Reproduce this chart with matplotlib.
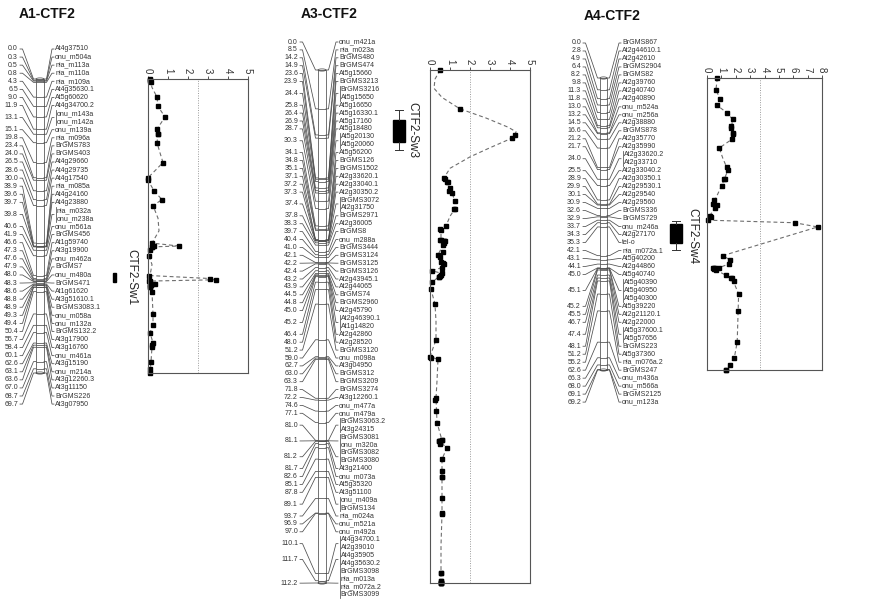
import matplotlib
matplotlib.use("Agg")
import matplotlib.pyplot as plt
from matplotlib.patches import Rectangle, Ellipse
import numpy as np

plt.rcParams['font.family'] = ['Liberation Sans', 'DejaVu Sans']

# ------------------------------------------------------------------ data
a1_markers = ["At4g37510", "onu_m504a", "nia_m113a", "nia_m110a", "nia_m109a", "At4g35630.1",
              "At5g60620", "At4g34700.2", "onu_m143a", "onu_m142a", "onu_m139a", "nia_m096a",
              "BrGMS783", "BrGMS403", "At4g29660", "At4g29735", "At4g17540", "nia_m085a",
              "At4g24160", "At4g23880", "nia_m032a", "onu_m238a", "onu_m561a", "BrGMS456",
              "At1g59740", "At3g19900", "onu_m462a", "BrGMS7", "onu_m480a", "BrGMS471",
              "At1g61620", "At3g51610.1", "BrGMS3083.1", "onu_m058a", "onu_m132a", "BrGMS132.2",
              "At3g17900", "At3g16760", "onu_m461a", "At3g15190", "onu_m214a", "At3g12260.3",
              "At3g11150", "BrGMS226", "At3g07950"]
a1_cm = [0.0, 0.3, 0.5, 0.8, 4.3, 6.5, 9.0, 11.9, 13.1, 13.1, 15.1, 19.8, 23.4, 24.0, 26.5,
         28.6, 30.0, 38.9, 39.6, 39.7, 39.8, 39.8, 40.6, 41.9, 46.6, 47.3, 47.6, 47.9, 48.0,
         48.3, 48.6, 48.8, 48.9, 49.3, 49.4, 50.4, 55.7, 58.4, 60.1, 62.6, 63.1, 63.6, 67.0,
         68.7, 69.7]
a1_lod = [0.1, 0.1, 0.1, 0.15, 0.45, 0.5, 0.85, 0.45, 0.5, 0.5, 0.45, 0.75, 0.0, 0.0, 0.3,
          0.7, 0.25, 0.2, 1.55, 0.3, 0.2, 0.2, 0.1, 0.05, 0.05, 3.1, 3.4, 0.1, 0.05,
          0.1, 0.35, 0.15, 0.1, 0.1, 0.1, 0.2, 0.25, 0.25, 0.1, 0.25, 0.2, 0.2, 0.15,
          0.1, 0.1]
a1_prof_cm = [0.0, 2.0, 4.3, 6.5, 9.0, 11.9, 13.1, 15.1, 17.5, 19.8, 21.5, 23.4, 24.0, 26.5,
              28.6, 30.0, 33.0, 36.0, 38.9, 39.6, 39.8, 41.9, 44.0, 46.6, 47.3, 47.6, 47.9,
              48.3, 48.6, 50.4, 55.7, 58.4, 60.1, 62.6, 63.6, 67.0, 69.7]
a1_prof_lod = [0.1, 0.2, 0.45, 0.5, 0.85, 0.45, 0.5, 0.45, 0.6, 0.75, 0.4, 0.0, 0.0, 0.3,
               0.7, 0.25, 0.5, 0.55, 0.2, 1.55, 0.2, 0.05, 0.2, 0.1, 3.1, 3.4, 0.1,
               0.1, 0.35, 0.2, 0.25, 0.25, 0.1, 0.25, 0.2, 0.15, 0.1]

a3_markers = ["onu_m421a", "nia_m023a", "BrGMS480", "BrGMS474", "At5g15660", "BrGMS3213",
              "BrGMS3216", "At5g15650", "At5g16650", "At5g16330.1", "At5g17160", "At5g18480",
              "At5g20130", "At5g20060", "At5g56200", "BrGMS126", "BrGMS1502", "At2g33620.1",
              "At2g33040.1", "At2g30350.2", "BrGMS3072", "At2g31750", "BrGMS2971", "At2g36005",
              "BrGMS8", "onu_m288a", "BrGMS3444", "BrGMS3124", "BrGMS3125", "BrGMS3126",
              "At2g43945.1", "At2g44065", "BrGMS74", "BrGMS2960", "At2g45790", "At2g46390.1",
              "At1g14820", "At2g42860", "At2g28520", "BrGMS3120", "onu_m098a", "At3g04950",
              "BrGMS312", "BrGMS3209", "BrGMS3274", "At3g12260.1", "onu_m477a", "onu_m479a",
              "BrGMS3063.2", "At3g24315", "BrGMS3081", "onu_m320a", "BrGMS3082", "BrGMS3080",
              "At3g21400", "onu_m073a", "At5g35320", "At3g51100", "onu_m409a", "BrGMS134",
              "nia_m024a", "onu_m521a", "onu_m492a", "At4g34700.1", "At2g39010", "At4g35905",
              "At4g35630.2", "BrGMS3098", "nia_m013a", "nia_m072a.2", "BrGMS3099"]
a3_cm = [0.0, 8.5, 14.2, 14.9, 23.6, 23.9, 24.4, 24.4, 25.8, 26.4,
         26.9, 28.7, 30.3, 30.3, 34.1, 34.8, 35.1, 37.1, 37.2, 37.3,
         37.4, 37.4, 37.8, 38.3, 39.7, 40.4, 41.0, 42.1, 42.2, 42.4,
         43.2, 43.9, 44.5, 44.8, 45.0, 45.2, 45.2, 46.4, 48.0, 51.2,
         59.0, 62.7, 63.0, 63.3, 71.8, 72.2, 74.6, 77.1, 81.0, 81.0,
         81.1, 81.1, 81.2, 81.2, 81.7, 82.6, 85.1, 87.8, 89.1, 89.1,
         93.7, 96.9, 97.0, 110.1, 110.1, 111.7, 111.7, 112.2, 112.2, 112.2,
         112.2]
a3_lod = [0.5, 1.5, 4.25, 4.1, 0.7, 0.75, 0.85, 0.9, 1.0, 0.95,
          1.1, 1.25, 1.25, 1.2, 0.8, 0.5, 0.55, 0.55, 0.5, 0.75,
          0.7, 0.7, 0.7, 0.65, 0.65, 0.4, 0.5, 0.55, 0.65, 0.7,
          0.6, 0.1, 0.6, 0.55, 0.5, 0.45, 0.45, 0.1, 0.05, 0.25,
          0.3, 0.0, 0.05, 0.4, 0.3, 0.25, 0.3, 0.35, 0.6, 0.6,
          0.5, 0.5, 0.45, 0.45, 0.5, 0.85, 0.6, 0.6, 0.6, 0.6,
          0.6, 0.6, 0.6, 0.55, 0.55, 0.55, 0.55, 0.55, 0.55, 0.55,
          0.55]
a3_prof_cm = [0.0, 2.0, 4.0, 6.0, 8.5, 10.5, 12.5, 13.5, 14.2, 14.9, 17.0, 19.0, 21.5, 23.6,
              24.4, 25.8, 26.9, 28.7, 30.3, 32.0, 34.1, 34.8, 35.1, 37.1, 37.3, 38.3, 40.4,
              42.2, 43.2, 43.9, 44.5, 45.2, 46.4, 48.0, 51.2, 55.0, 59.0, 62.7, 63.3, 68.0,
              71.8, 77.1, 81.0, 81.2, 82.6, 85.1, 89.1, 97.0, 104.0, 112.2]
a3_prof_lod = [0.5, 0.25, 0.2, 0.6, 1.5, 2.8, 3.9, 4.3, 4.25, 4.1, 3.0, 2.0, 1.0, 0.7,
               0.85, 1.0, 1.1, 1.25, 1.25, 1.0, 0.8, 0.5, 0.55, 0.55, 0.75, 0.65, 0.4,
               0.65, 0.6, 0.1, 0.6, 0.45, 0.1, 0.05, 0.25, 0.3, 0.3, 0.0, 0.4, 0.35,
               0.3, 0.35, 0.6, 0.45, 0.85, 0.6, 0.6, 0.6, 0.55, 0.55]

a4_markers = ["BrGMS867", "At2g44610.1", "At2g42610", "BrGMS2904", "BrGMS82", "At2g39760",
              "At2g40740", "At2g40890", "onu_m524a", "onu_m256a", "At2g38880", "BrGMS878",
              "At2g35770", "At2g35990", "At2g33620.2", "At2g33710", "At2g33040.2",
              "At2g30350.1", "At2g29530.1", "At2g29540", "At2g29560", "BrGMS336", "BrGMS729",
              "onu_m246a", "At2g27170", "tel-o", "nia_m072a.1", "At5g40200", "At2g44860",
              "At5g40740", "At5g40390", "At5g40950", "At5g40300", "At5g39220", "At2g21120.1",
              "At2g22000", "At5g37600.1", "At5g57656", "BrGMS223", "At5g37360", "nia_m076a.2",
              "BrGMS247", "onu_m436a", "onu_m566a", "BrGMS2125", "onu_m123a"]
a4_cm = [0.0, 2.8, 4.9, 6.4, 8.2, 9.8, 11.3, 11.8, 13.0, 13.2,
         14.5, 16.6, 21.2, 21.7, 24.0, 24.0, 25.5, 28.9, 29.9, 30.1,
         30.9, 32.6, 32.9, 33.7, 34.3, 35.3, 42.1, 43.1, 44.1, 45.0,
         45.1, 45.1, 45.1, 45.2, 45.5, 46.7, 47.4, 47.4, 48.1, 51.2,
         55.2, 62.6, 66.3, 68.0, 69.1, 69.2]
a4_lod = [0.72, 0.62, 0.9, 0.67, 1.37, 1.78, 1.7, 1.7, 1.8, 1.8,
          1.74, 0.85, 1.37, 1.47, 1.23, 1.2, 1.02, 0.5, 0.42, 0.67,
          0.55, 0.2, 0.3, 0.1, 6.1, 7.7, 1.1, 1.6, 1.5, 0.8,
          0.45, 0.5, 0.55, 0.5, 0.6, 1.3, 1.74, 1.7, 1.9, 2.2,
          2.15, 2.1, 1.9, 1.6, 1.3, 1.3]
a4_prof_cm = [0.0, 2.8, 4.9, 6.4, 8.2, 9.8, 11.8, 13.2, 14.5, 16.6, 19.0, 21.2, 21.7, 24.0,
              25.5, 29.9, 30.1, 32.6, 33.7, 34.3, 35.3, 42.1, 43.1, 44.1, 45.0, 45.1, 45.5,
              46.7, 47.4, 51.2, 57.0, 62.6, 66.3, 69.2]
a4_prof_lod = [0.72, 0.62, 0.9, 0.67, 1.37, 1.78, 1.7, 1.8, 1.74, 0.85, 1.1, 1.37, 1.47, 1.2,
               1.02, 0.42, 0.67, 0.2, 0.1, 6.1, 7.7, 1.1, 1.6, 1.5, 0.8, 0.5, 0.6,
               1.3, 1.74, 2.2, 2.15, 2.1, 1.9, 1.3]

group_titles = ["A1-CTF2", "A3-CTF2", "A4-CTF2"]
group_length = [69.7, 112.2, 69.2]
lod_max = [5, 5, 8]
lod_threshold = [2.5, 2.0, 3.7]

qtl_names = ["CTF2-Sw1", "CTF2-Sw3", "CTF2-Sw4"]
qtl_lo = [46.0, 10.9, 34.6]
qtl_hi = [48.1, 15.7, 39.1]
qtl_wlo = [46.0, 8.7, 33.9]
qtl_whi = [48.1, 17.6, 40.8]

# ------------------------------------------------------------------ layout (pixels)
W, H = 875, 603
layouts = [
    dict(top=79, bot=373, lab_top=49, lab_step=8.07, x_num=18, x_l0=20, xb0=36, xb1=44,
         x_r1=54, box=(148, 79, 248, 373), title=(47, 14),
         q_x0=113, q_w=3, q_tx=131),
    dict(top=70, bot=583, lab_top=42, lab_step=7.9, x_num=298, x_l0=300, xb0=318, xb1=326,
         x_r1=338, box=(430, 70, 530, 583), title=(329, 14),
         q_x0=393, q_w=12, q_tx=412),
    dict(top=78, bot=370, lab_top=43, lab_step=7.98, x_num=581, x_l0=583, xb0=600, xb1=607,
         x_r1=621, box=(707, 78, 822, 370), title=(612, 16),
         q_x0=670, q_w=12, q_tx=692),
]

FS = 5.0
TXT = '#333333'
LC = '#4d4d4d'
LW = 0.55

fig = plt.figure(figsize=(W / 100, H / 100), dpi=100)


def draw_group(k, markers, cm, lod, prof_cm, prof_lod):
    lay = layouts[k]
    L = group_length[k]
    ppc = (lay['bot'] - lay['top']) / L
    ax = fig.add_axes([0, 0, 1, 1])
    ax.set_xlim(0, W)
    ax.set_ylim((H - lay['top']) / ppc, -lay['top'] / ppc)
    ax.axis('off')

    n = len(markers)
    slots = [(lay['lab_top'] + i * lay['lab_step'] - lay['top']) / ppc for i in range(n)]
    half = 0.42 * lay['lab_step'] / ppc

    xb0, xb1 = lay['xb0'], lay['xb1']
    # chromosome bar
    ax.vlines([xb0, xb1], 0, L, color=LC, lw=LW)
    ax.hlines(sorted(set(cm)), xb0, xb1, color=LC, lw=LW)
    for yc in (0, L):
        ax.add_patch(Ellipse(((xb0 + xb1) / 2, yc), xb1 - xb0, 2.2 / ppc, fill=False,
                             ec=LC, lw=LW))

    # marker groups
    i = 0
    while i < n:
        j = i
        while j + 1 < n and cm[j + 1] == cm[i]:
            j += 1
        c = cm[i]
        sy = (slots[i] + slots[j]) / 2
        ax.text(lay['x_num'], sy, f"{c:.1f}", ha='right', va='center', fontsize=FS, color=TXT)
        ax.plot([lay['x_l0'], lay['x_l0'] + 2.5, xb0 - 2.5, xb0], [sy, sy, c, c],
                color=LC, lw=LW)
        xr = lay['x_r1']
        ax.plot([xb1, xb1 + 2.5, xr - 2, xr], [c, c, sy, sy], color=LC, lw=LW)
        if j > i:
            ax.plot([xr + 1.5, xr + 1.5], [slots[i] - half, slots[j] + half], color=LC, lw=LW)
            tx = xr + 2.5
        else:
            tx = xr + 1.2
        for m in range(i, j + 1):
            ax.text(tx, slots[m], markers[m], ha='left', va='center', fontsize=FS, color=TXT)
        i = j + 1

    # QTL bar with support interval
    qx0, qw = lay['q_x0'], lay['q_w']
    ax.add_patch(Rectangle((qx0, qtl_lo[k]), qw, qtl_hi[k] - qtl_lo[k], color='black'))
    xc = qx0 + qw / 2
    if qtl_wlo[k] < qtl_lo[k]:
        ax.plot([xc, xc], [qtl_wlo[k], qtl_lo[k]], color='#333', lw=0.7)
        ax.plot([xc - 4, xc + 4], [qtl_wlo[k]] * 2, color='#333', lw=0.7)
    if qtl_whi[k] > qtl_hi[k]:
        ax.plot([xc, xc], [qtl_hi[k], qtl_whi[k]], color='#333', lw=0.7)
        ax.plot([xc - 4, xc + 4], [qtl_whi[k]] * 2, color='#333', lw=0.7)
    ax.text(lay['q_tx'], (qtl_wlo[k] + qtl_whi[k]) / 2, qtl_names[k], rotation=-90,
            ha='center', va='center', fontsize=8.5, color='#222')

    # title
    tx, ty = lay['title']
    fig.text(tx / W, 1 - ty / H, group_titles[k], ha='center', va='center',
             fontsize=10, fontweight='bold', color='#111')

    # LOD panel
    bx0, by0, bx1, by1 = lay['box']
    axl = fig.add_axes([bx0 / W, 1 - by1 / H, (bx1 - bx0) / W, (by1 - by0) / H])
    axl.set_xlim(0, lod_max[k])
    axl.set_ylim(L, 0)
    axl.axvline(lod_threshold[k], ls=(0, (1, 1.5)), color='#9a9a9a', lw=0.7)
    axl.plot(prof_lod, prof_cm, ls=(0, (3.5, 2.5)), color='#6e6e6e', lw=0.8, clip_on=False)
    axl.plot(lod, cm, 's', ms=2.3, color='black', clip_on=False)
    axl.xaxis.tick_top()
    axl.set_xticks(range(lod_max[k] + 1))
    axl.set_yticks([])
    axl.tick_params(axis='x', length=2.5, width=0.6, pad=1.5, labelsize=7, colors='#333')
    for lab in axl.get_xticklabels():
        lab.set_rotation(-90)
    for s in axl.spines.values():
        s.set_linewidth(0.8)
        s.set_color('#555')


draw_group(0, a1_markers, a1_cm, a1_lod, a1_prof_cm, a1_prof_lod)
draw_group(1, a3_markers, a3_cm, a3_lod, a3_prof_cm, a3_prof_lod)
draw_group(2, a4_markers, a4_cm, a4_lod, a4_prof_cm, a4_prof_lod)

fig.savefig("out.png", dpi=100, facecolor='white')
